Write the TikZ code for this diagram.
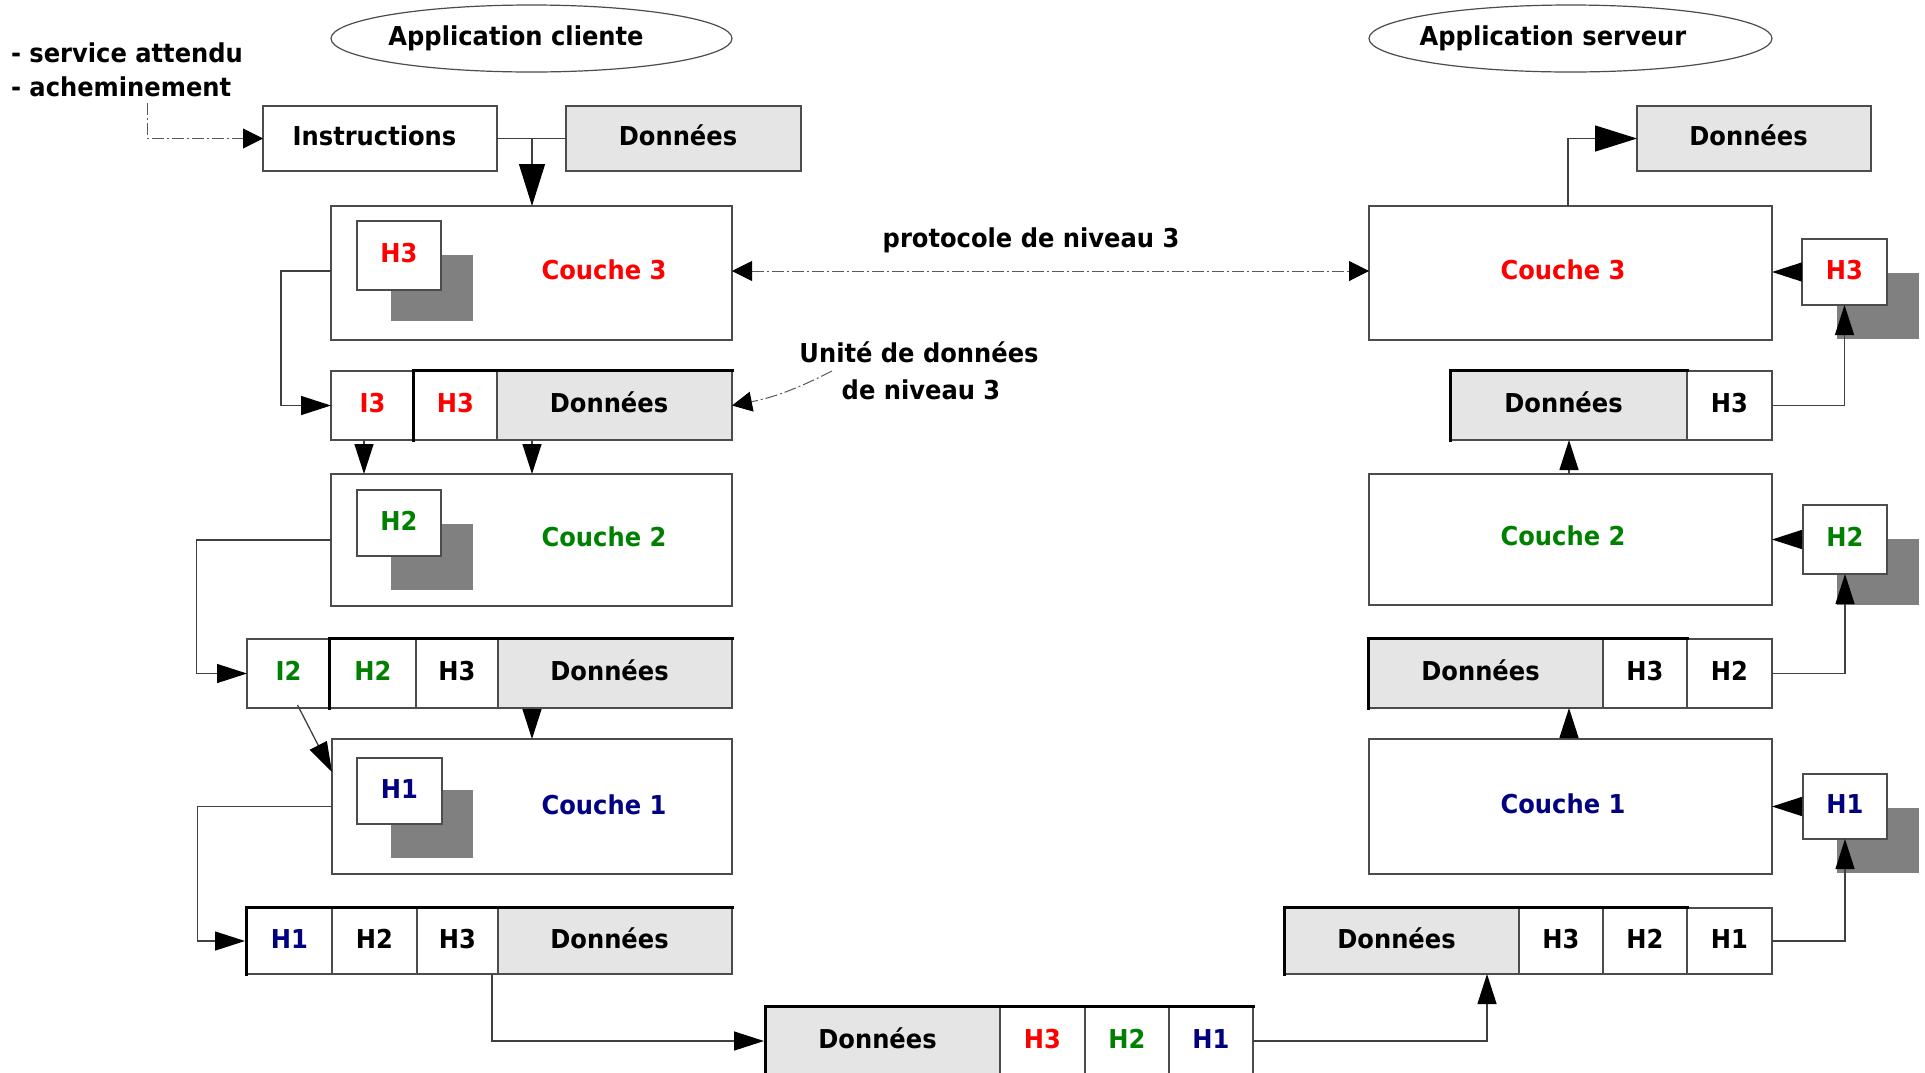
\documentclass[tikz,border=0pt]{standalone}
\usepackage{fontspec}
\setmainfont{DejaVu Sans}[FakeStretch=0.93]
\usetikzlibrary{arrows.meta,shapes.geometric}
\definecolor{cred}{HTML}{FF0000}
\definecolor{cgreen}{HTML}{008000}
\definecolor{cnavy}{HTML}{000080}
\newcommand\mylbl{\fontsize{26}{30}\selectfont\bfseries}
\newcommand\lft{\kern-11pt}
\begin{document}
\begin{tikzpicture}[x=1pt,y=-1pt,
  bx/.style={draw=black!70, line width=1.4pt, inner sep=0pt, outer sep=0pt, fill=white, text height=19pt, text depth=5pt, font=\mylbl},
  gbx/.style={bx, fill=black!10},
  sh/.style={fill=black!50, draw=none, inner sep=0pt, outer sep=0pt},
  lab/.style={inner sep=0pt, outer sep=0pt, text height=19pt, text depth=0pt, font=\mylbl},
  ell/.style={ellipse, draw=black!70, line width=1.2pt, inner sep=0pt, outer sep=0pt},
  thickb/.style={draw=black, line width=3pt, line cap=rect},
  conn/.style={draw=black!75, line width=1.3pt},
  arr/.style={conn, -{Triangle[length=30pt,width=19pt,color=black]}},
  bigarr/.style={conn, -{Triangle[length=42pt,width=26pt,color=black]}},
  dd/.style={draw=black!65, line width=1pt, dash pattern=on 12pt off 3pt on 2pt off 3pt},
  ddarr/.style={dd, -{Triangle[length=20pt,width=20pt,color=black]}},
  ddboth/.style={dd, {Triangle[length=20pt,width=20pt,color=black]}-{Triangle[length=20pt,width=20pt,color=black]}}
]
\fill[white] (0,0) rectangle (1925,1072);
\useasboundingbox (0,0) rectangle (1925,1072);

% ---------- top labels ----------
\node[ell, minimum width=401pt, minimum height=67pt] (appc) at (531.5,38.5) {};
\node[lab] (appct) at (516,36) {Application cliente};
\node[ell, minimum width=403pt, minimum height=67pt] (apps) at (1570.5,38.5) {};
\node[lab] (appst) at (1553,36) {Application serveur};
\node[lab, anchor=base west] (serv) at (11,62) {- service attendu};
\node[lab, anchor=base west] (ach) at (11,96) {- acheminement};

% ---------- left column ----------
\node[bx, minimum width=234pt, minimum height=65pt] (inst) at (380,138.5) {\lft Instructions};
\node[gbx, minimum width=235pt, minimum height=65pt] (dat0) at (683.5,138.5) {\lft Données};

\node[bx, minimum width=401pt, minimum height=134pt] (c3L) at (531.5,273) {};
\node[sh, minimum width=82pt, minimum height=66pt] (s3L) at (432,288) {};
\node[bx, minimum width=84pt, minimum height=69pt, text=cred] (h3L) at (399,255.5) {H3};
\node[lab, text=cred] (t3L) at (604,270) {Couche 3};

\node[bx, minimum width=83pt, minimum height=69pt, text=cred] (r3i) at (372.5,405.5) {I3};
\node[bx, minimum width=83pt, minimum height=69pt, text=cred] (r3h) at (455.5,405.5) {H3};
\node[gbx, minimum width=235pt, minimum height=69pt] (r3d) at (614.5,405.5) {\lft Données};

\node[bx, minimum width=401pt, minimum height=132pt] (c2L) at (531.5,540) {};
\node[sh, minimum width=82pt, minimum height=66pt] (s2L) at (432,557) {};
\node[bx, minimum width=84pt, minimum height=66pt, text=cgreen] (h2L) at (399,523) {H2};
\node[lab, text=cgreen] (t2L) at (604,537) {Couche 2};

\node[bx, minimum width=83pt, minimum height=69pt, text=cgreen] (r2i) at (288.5,673.5) {I2};
\node[bx, minimum width=86pt, minimum height=69pt, text=cgreen] (r2h2) at (373,673.5) {H2};
\node[bx, minimum width=82pt, minimum height=69pt] (r2h3) at (457,673.5) {H3};
\node[gbx, minimum width=234pt, minimum height=69pt] (r2d) at (615,673.5) {\lft Données};

\node[bx, minimum width=400pt, minimum height=135pt] (c1L) at (532,806.5) {};
\node[sh, minimum width=82pt, minimum height=68pt] (s1L) at (432,823.5) {};
\node[bx, minimum width=85pt, minimum height=66pt, text=cnavy] (h1L) at (399.5,791) {H1};
\node[lab, text=cnavy] (t1L) at (604,805) {Couche 1};

\node[bx, minimum width=85pt, minimum height=66pt, text=cnavy] (r1h1) at (289.5,941) {H1};
\node[bx, minimum width=85pt, minimum height=66pt] (r1h2) at (374.5,941) {H2};
\node[bx, minimum width=81pt, minimum height=66pt] (r1h3) at (457.5,941) {H3};
\node[gbx, minimum width=234pt, minimum height=66pt] (r1d) at (615,941) {\lft Données};

% ---------- bottom packet ----------
\node[gbx, minimum width=234pt, minimum height=68pt] (bd) at (883,1041) {\lft Données};
\node[bx, minimum width=85pt, minimum height=68pt, text=cred] (bh3) at (1042.5,1041) {H3};
\node[bx, minimum width=84pt, minimum height=68pt, text=cgreen] (bh2) at (1127,1041) {H2};
\node[bx, minimum width=84pt, minimum height=68pt, text=cnavy] (bh1) at (1211,1041) {H1};

% ---------- right column ----------
\node[gbx, minimum width=234pt, minimum height=65pt] (datR) at (1754,138.5) {\lft Données};

\node[bx, minimum width=403pt, minimum height=134pt] (c3R) at (1570.5,273) {};
\node[lab, text=cred] (t3R) at (1563,270) {Couche 3};
\node[sh, minimum width=82pt, minimum height=66pt] (s3R) at (1878,306) {};
\node[bx, minimum width=85pt, minimum height=66pt, text=cred] (h3R) at (1844.5,272) {H3};

\node[gbx, minimum width=236pt, minimum height=69pt] (rR3d) at (1569,405.5) {\lft Données};
\node[bx, minimum width=85pt, minimum height=69pt] (rR3h) at (1729.5,405.5) {H3};

\node[bx, minimum width=403pt, minimum height=131pt] (c2R) at (1570.5,539.5) {};
\node[lab, text=cgreen] (t2R) at (1563,536) {Couche 2};
\node[sh, minimum width=82pt, minimum height=66pt] (s2R) at (1878,572) {};
\node[bx, minimum width=84pt, minimum height=69pt, text=cgreen] (h2R) at (1845,539.5) {H2};

\node[gbx, minimum width=234pt, minimum height=69pt] (rR2d) at (1486,673.5) {\lft Données};
\node[bx, minimum width=84pt, minimum height=69pt] (rR2h3) at (1645,673.5) {H3};
\node[bx, minimum width=85pt, minimum height=69pt] (rR2h2) at (1729.5,673.5) {H2};

\node[bx, minimum width=403pt, minimum height=135pt] (c1R) at (1570.5,806.5) {};
\node[lab, text=cnavy] (t1R) at (1563,804) {Couche 1};
\node[sh, minimum width=82pt, minimum height=65pt] (s1R) at (1878,840.5) {};
\node[bx, minimum width=84pt, minimum height=65pt, text=cnavy] (h1R) at (1845,806.5) {H1};

\node[gbx, minimum width=234pt, minimum height=66pt] (rR1d) at (1402,941) {\lft Données};
\node[bx, minimum width=84pt, minimum height=66pt] (rR1h3) at (1561,941) {H3};
\node[bx, minimum width=84pt, minimum height=66pt] (rR1h2) at (1645,941) {H2};
\node[bx, minimum width=85pt, minimum height=66pt] (rR1h1) at (1729.5,941) {H1};

% ---------- thick borders ----------
\draw[thickb] ([xshift=-1pt]r3h.south west) |- ([yshift=1pt]r3d.north east);
\draw[thickb] ([xshift=-1pt]r2h2.south west) |- ([yshift=1pt]r2d.north east);
\draw[thickb] ([xshift=-1pt]r1h1.south west) |- ([yshift=1pt]r1d.north east);
\draw[thickb] ([xshift=-1pt]bd.south west) |- ([yshift=1pt]bh1.north east);
\draw[thickb] ([xshift=-1pt]rR3d.south west) |- ([yshift=1pt]rR3d.north east);
\draw[thickb] ([xshift=-1pt]rR2d.south west) |- ([yshift=1pt]rR2h3.north east);
\draw[thickb] ([xshift=-1pt]rR1d.south west) |- ([yshift=1pt]rR1h2.north east);

% ---------- middle labels ----------
\node[lab, anchor=base] (proto) at (1031,247) {protocole de niveau 3};
\node[lab, anchor=base] (unit1) at (919,362) {Unité de données};
\node[lab, anchor=base] (unit2) at (921,399) {de niveau 3};

% ---------- connectors ----------
\coordinate (dds) at (147,103);
\draw[ddarr] (dds) |- (inst.west);

\draw[conn] (inst.east) -- (dat0.west);
\coordinate (j0) at (532,138.5);
\draw[bigarr] (j0) -- (j0 |- c3L.north);

\draw[arr] ([yshift=2pt]c3L.west) -- ++(-50,0) |- (r3i.west);
\coordinate (a4) at ([xshift=-8.5pt]r3i.south);
\draw[arr] (a4) -- (a4 |- c2L.north);
\coordinate (a5) at ([xshift=35pt]r3d.south west);
\draw[arr] (a5) -- (a5 |- c2L.north);

\draw[arr] (c2L.west) -- ++(-134.5,0) |- (r2i.west);
\coordinate (a7s) at ([xshift=9pt,yshift=3pt]r2i.south);
\coordinate (a7e) at ([yshift=-33pt]c1L.north west);
\draw[arr] (a7s) -- (a7e);
\coordinate (a8) at ([xshift=34pt]r2d.south west);
\draw[arr] (a8) -- (a8 |- c1L.north);

\draw[arr] (c1L.west) -- ++(-134.5,0) |- ([xshift=-2pt]r1h1.west);
\coordinate (a10) at ([xshift=-6pt]r1h3.south east);
\draw[arr] (a10) |- ([xshift=-2pt]bd.west);

\coordinate (a11) at ([xshift=-32pt]rR1d.south east);
\draw[arr] (bh1.east) -| (a11);
\draw[arr] (rR1h1.east) -| (h1R.south);
\draw[arr] (h1R.west) -- (c1R.east);
\coordinate (a14) at ([xshift=-1.5pt]c1R.north);
\draw[arr] (a14) -- (a14 |- rR2d.south);
\draw[arr] (rR2h2.east) -| (h2R.south);
\draw[arr] (h2R.west) -- (c2R.east);
\coordinate (a17) at ([xshift=-1.5pt]c2R.north);
\draw[arr] (a17) -- (a17 |- rR3d.south);
\draw[arr] (rR3h.east) -| (h3R.south);
\draw[arr] (h3R.west) -- (h3R.west -| c3R.east);
\draw[bigarr] ([xshift=-2.5pt]c3R.north) |- (datR.west);

\draw[ddboth] ([yshift=2pt]c3L.east) -- ([yshift=2pt]c3R.west);
\coordinate (u0) at (832,371);
\draw[ddarr] (u0) to[bend left=8] (r3d.east);
\end{tikzpicture}
\end{document}
